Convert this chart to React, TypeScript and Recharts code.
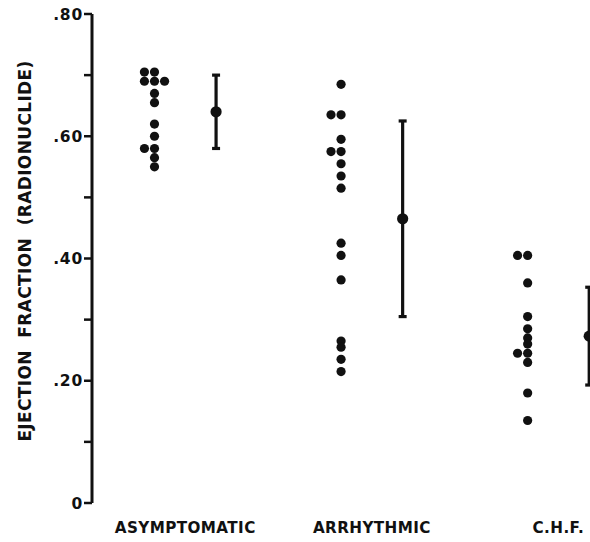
import { ScatterChart, Scatter, XAxis, YAxis, ErrorBar } from 'recharts';

const categories = ['ASYMPTOMATIC', 'ARRHYTHMIC', 'C.H.F.'];

// individual patients, value + column (-1 left, 0 centre, 1 right) where dots sit side by side
const asymptomatic = [0.705, 0.705, 0.69, 0.69, 0.69, 0.67, 0.655, 0.62, 0.6, 0.58, 0.58, 0.565, 0.55];
const asymptomaticCols = [-1, 0, -1, 0, 1, 0, 0, 0, 0, -1, 0, 0, 0];

const arrhythmic = [0.685, 0.635, 0.635, 0.595, 0.575, 0.575, 0.555, 0.535, 0.515, 0.425, 0.405, 0.365, 0.265, 0.255, 0.235, 0.215];
const arrhythmicCols = [0, -1, 0, 0, -1, 0, 0, 0, 0, 0, 0, 0, 0, 0, 0, 0];

const chf = [0.405, 0.405, 0.36, 0.305, 0.285, 0.27, 0.26, 0.245, 0.245, 0.23, 0.18, 0.135];
const chfCols = [-1, 0, 0, 0, 0, 0, 0, -1, 0, 0, 0, 0];

// mean +/- SD
const means = [0.64, 0.465, 0.273];
const sds = [0.06, 0.16, 0.08];

const yTicks = [0, 0.1, 0.2, 0.3, 0.4, 0.5, 0.6, 0.7, 0.8];
const yLabels: Record<string, string> = { '0': '0', '0.2': '.20', '0.4': '.40', '0.6': '.60', '0.8': '.80' };

const groups = [
  { vals: asymptomatic, cols: asymptomaticCols },
  { vals: arrhythmic, cols: arrhythmicCols },
  { vals: chf, cols: chfCols },
];

const DOT_SHIFT = 0.165;
const COL_STEP = 0.054;

const points = groups.flatMap((g, gi) =>
  g.vals.map((v, i) => ({ x: gi + 1 - DOT_SHIFT + g.cols[i] * COL_STEP, y: v }))
);
const meanPoints = means.map((m, i) => ({ x: i + 1 + DOT_SHIFT, y: m, err: sds[i] }));

const FONT = '"DejaVu Sans", sans-serif';

const YTick = (props: any) => {
  const { x, y, payload } = props;
  const lbl = yLabels[String(payload.value)];
  if (!lbl) return null;
  return (
    <text x={x} y={y} dy="0.36em" textAnchor="end" fontFamily={FONT} fontWeight="bold" fontSize={15.5} letterSpacing={0.8} fill="#111">
      {lbl}
    </text>
  );
};

const XTick = (props: any) => {
  const { x, payload } = props;
  return (
    <text x={x} y={533} textAnchor="middle" fontFamily={FONT} fontWeight="bold" fontSize={15.2} letterSpacing={0.4} fill="#111">
      {categories[payload.value - 1]}
    </text>
  );
};

const Dot = (props: any) => <circle cx={props.cx} cy={props.cy} r={4.6} fill="#111" />;
const MeanDot = (props: any) => <circle cx={props.cx} cy={props.cy} r={5.6} fill="#111" />;

export default function App() {
  return (
    <div style={{ position: 'absolute', left: 0, top: 0, width: 590, height: 542, overflow: 'hidden', background: '#fff' }}>
      <ScatterChart width={620} height={542} margin={{ top: 14, right: 0, bottom: 0, left: 0 }}>
        <XAxis
          type="number"
          dataKey="x"
          domain={[0.5, 3.33]}
          ticks={[1, 2, 3]}
          axisLine={false}
          tickLine={false}
          height={39}
          tick={<XTick />}
          allowDataOverflow
        />
        <YAxis
          type="number"
          dataKey="y"
          domain={[0, 0.8]}
          ticks={yTicks}
          width={92}
          axisLine={{ stroke: '#111', strokeWidth: 3 }}
          tickLine={{ stroke: '#111', strokeWidth: 2.5 }}
          tickSize={8}
          tickMargin={1}
          tick={<YTick />}
          interval={0}
          label={{
            content: () => (
              <text
                x={25}
                y={251}
                transform="rotate(-90 25 251)"
                textAnchor="middle"
                dominantBaseline="central"
                fontFamily={FONT}
                fontWeight="bold"
                fontSize={17}
                letterSpacing={0.35}
                fill="#111"
                style={{ whiteSpace: 'pre' }}
              >
                {'EJECTION  FRACTION  (RADIONUCLIDE)'}
              </text>
            ),
          }}
        />
        <Scatter data={points} shape={<Dot />} isAnimationActive={false} />
        <Scatter data={meanPoints} shape={<MeanDot />} isAnimationActive={false}>
          <ErrorBar dataKey="err" direction="y" width={4} stroke="#111" strokeWidth={3.2} />
        </Scatter>
      </ScatterChart>
    </div>
  );
}
